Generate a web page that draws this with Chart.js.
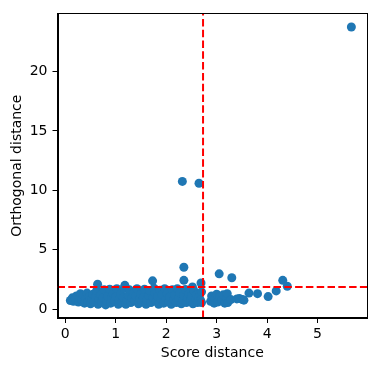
<!DOCTYPE html>
<html>
<head>
<meta charset="utf-8">
<script src="https://cdn.jsdelivr.net/npm/chart.js@4/dist/chart.umd.min.js"></script>
<style>
html,body{margin:0;padding:0;background:#fff;}
#wrap{width:376px;height:371px;}
</style>
</head>
<body>
<div id="wrap"><canvas id="c" width="376" height="371"></canvas></div>
<script>
// Score distance (x) of each sample
const scoreDistance = [
0.10,0.14,0.16,0.20,0.22,0.26,0.28,0.30,0.33,0.36,0.38,0.40,0.43,0.45,0.48,0.50,0.52,0.55,0.57,0.60,
0.62,0.64,0.65,0.67,0.70,0.72,0.75,0.77,0.80,0.82,0.85,0.88,0.90,0.92,0.95,0.98,1.00,1.02,1.05,1.07,
1.10,1.12,1.15,1.17,1.18,1.20,1.22,1.25,1.27,1.30,1.32,1.35,1.38,1.40,1.42,1.45,1.47,1.50,1.52,1.55,
1.57,1.60,1.62,1.65,1.67,1.70,1.73,1.74,1.76,1.78,1.80,1.83,1.85,1.88,1.90,1.92,1.95,1.97,2.00,2.02,
2.05,2.07,2.10,2.12,2.15,2.17,2.20,2.22,2.25,2.27,2.30,2.32,2.33,2.35,2.35,2.35,2.38,2.40,2.42,2.45,
2.48,2.50,2.52,2.53,2.55,2.58,2.60,2.62,2.65,2.65,2.68,2.69,2.70,2.70,
2.88,2.90,2.95,2.97,3.00,3.02,3.05,3.06,3.10,3.13,3.16,3.20,3.21,3.22,3.28,3.30,3.40,3.45,3.51,3.54,
3.64,3.81,4.02,4.18,4.31,4.40,5.67
];
// Orthogonal distance (y) of each sample
const orthogonalDistance = [
0.72,0.95,0.65,0.85,1.10,0.60,0.95,1.30,0.75,1.15,0.50,0.90,1.35,0.65,1.05,0.45,0.85,1.25,0.60,1.00,
1.55,2.10,0.40,0.80,1.20,0.55,0.95,1.62,0.35,0.70,1.10,1.68,0.50,0.90,1.30,0.65,1.05,1.72,0.40,0.80,
1.25,0.55,0.95,1.75,2.00,0.40,0.75,1.15,1.62,0.55,0.95,1.35,0.70,1.10,1.72,0.45,0.85,1.25,0.60,1.00,
1.68,0.40,0.75,1.15,1.55,0.55,2.38,0.95,1.75,1.30,0.65,1.05,0.40,1.58,0.80,1.20,0.50,1.72,0.90,1.30,
0.60,1.05,0.40,1.62,0.80,1.20,0.55,1.72,0.95,1.35,0.45,10.75,0.75,1.15,2.42,3.52,1.65,0.55,0.95,1.30,
0.70,1.10,1.86,0.45,1.55,0.85,1.20,0.55,10.60,1.00,0.75,2.20,1.45,0.55,
0.65,1.10,0.50,0.90,1.25,0.60,2.97,1.00,0.75,1.20,0.50,0.90,1.30,0.55,0.80,2.64,0.86,0.90,0.81,0.75,
1.35,1.30,1.05,1.53,2.42,1.92,23.75
];
// Cut-off thresholds
const scoreCutoff = 2.73;
const orthoCutoff = 1.85;
// Axis ranges and ticks
const xRange = [-0.155, 5.98];
const yRange = [-0.75, 24.9];
const xTickStep = 1;
const yTickStep = 5;

const points = scoreDistance.map((x, i) => ({x: x, y: orthogonalDistance[i]}));
const FONT = 'DejaVu Sans';

const frame = {
  id: 'frame',
  afterDraw(chart) {
    const a = chart.chartArea, ctx = chart.ctx;
    ctx.save();
    ctx.strokeStyle = '#000';
    ctx.lineWidth = 1;
    ctx.strokeRect(Math.round(a.left) + 0.5, Math.round(a.top) + 0.5,
      Math.round(a.right - a.left) - 1, Math.round(a.bottom - a.top) - 1);
    ctx.restore();
  }
};

new Chart(document.getElementById('c'), {
  type: 'scatter',
  data: {
    datasets: [
      {
        data: [{x: scoreCutoff, y: yRange[0]}, {x: scoreCutoff, y: yRange[1]}],
        showLine: true, pointRadius: 0, borderColor: '#ff0000', borderWidth: 2,
        borderDash: [7.5, 3.3], fill: false
      },
      {
        data: [{x: xRange[0], y: orthoCutoff}, {x: xRange[1], y: orthoCutoff}],
        showLine: true, pointRadius: 0, borderColor: '#ff0000', borderWidth: 2,
        borderDash: [7.5, 3.3], fill: false
      },
      {
        data: points,
        pointRadius: 4.5, pointBackgroundColor: '#1f77b4', pointBorderWidth: 0,
        backgroundColor: '#1f77b4', borderWidth: 0
      }
    ]
  },
  options: {
    responsive: false,
    animation: false,
    events: [],
    layout: {padding: {left: 9, right: 9, top: 10, bottom: 9}},
    plugins: {legend: {display: false}, tooltip: {enabled: false}},
    scales: {
      x: {
        type: 'linear', min: xRange[0], max: xRange[1],
        afterFit(s) { s.height = 44; },
        ticks: {stepSize: xTickStep, includeBounds: false, color: '#000',
          font: {family: FONT, size: 14}, padding: 3, maxRotation: 0},
        grid: {drawOnChartArea: false, drawTicks: true, tickLength: 5, tickColor: '#000', tickWidth: 1},
        border: {display: true, color: '#000', width: 1},
        title: {display: true, text: 'Score distance', color: '#000',
          font: {family: FONT, size: 14}, padding: {top: 2, bottom: 0}}
      },
      y: {
        type: 'linear', min: yRange[0], max: yRange[1],
        afterFit(s) { s.width = 48.5; },
        ticks: {stepSize: yTickStep, includeBounds: false, color: '#000',
          font: {family: FONT, size: 14}, padding: 5},
        grid: {drawOnChartArea: false, drawTicks: true, tickLength: 5, tickColor: '#000', tickWidth: 1},
        border: {display: true, color: '#000', width: 1},
        title: {display: true, text: 'Orthogonal distance', color: '#000',
          font: {family: FONT, size: 14}, padding: {top: 0, bottom: 0}}
      }
    }
  },
  plugins: [frame]
});
</script>
</body>
</html>
